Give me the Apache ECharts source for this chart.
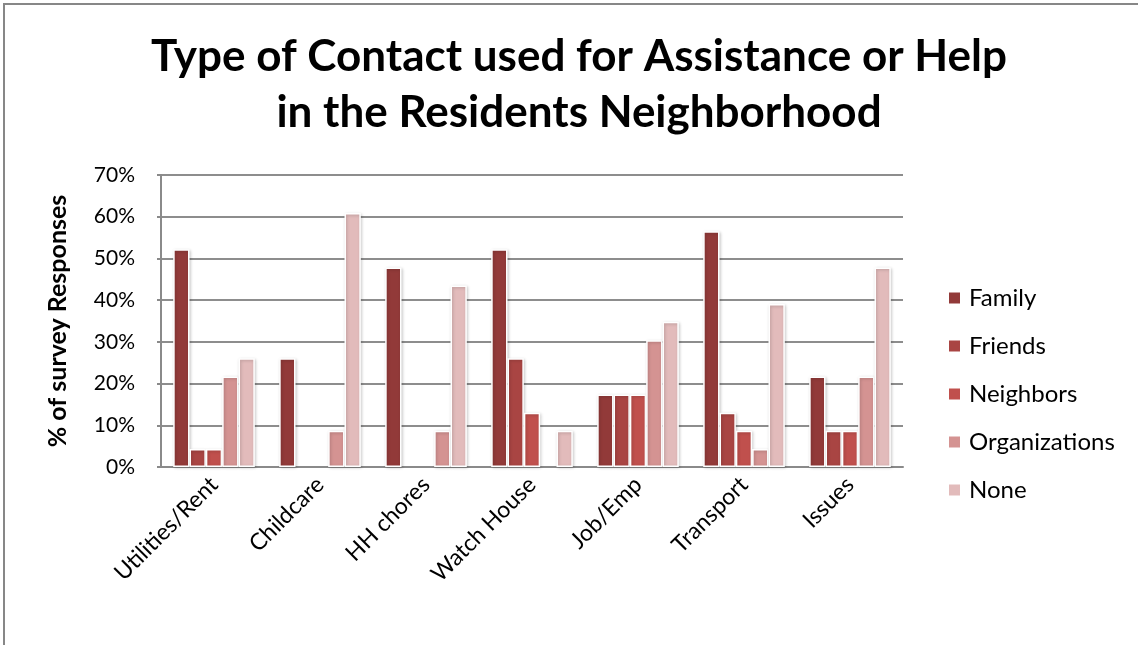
<!DOCTYPE html>
<html>
<head>
<meta charset="utf-8">
<style>
  html, body { margin: 0; padding: 0; background: #fff; }
  #chart { width: 1138px; height: 645px; }
</style>
<script src="https://cdn.jsdelivr.net/npm/echarts@6/dist/echarts.min.js"></script>
</head>
<body>
<div id="chart"></div>
<script>
// Survey of 23 residents: share of responses per type of contact
const categories = ['Utilities/Rent', 'Childcare', 'HH chores', 'Watch House', 'Job/Emp', 'Transport', 'Issues'];
const seriesNames = ['Family', 'Friends', 'Neighbors', 'Organizations', 'None'];
const family        = [52.2, 26.1, 47.8, 52.2, 17.4, 56.5, 21.7];
const friends       = [4.3, 0, 0, 26.1, 17.4, 13.0, 8.7];
const neighbors     = [4.3, 0, 0, 13.0, 17.4, 8.7, 8.7];
const organizations = [21.7, 8.7, 8.7, 0, 30.4, 4.3, 21.7];
const none          = [26.1, 60.9, 43.5, 8.7, 34.8, 39.1, 47.8];
const yTicks = [0, 10, 20, 30, 40, 50, 60, 70];

const values = [family, friends, neighbors, organizations, none];
const colors = ['#923a39', '#a94543', '#c0504d', '#d49392', '#e2bbbb'];
const FONT = 'Lato, "Open Sans", sans-serif';

const chart = echarts.init(document.getElementById('chart'), null, { renderer: 'canvas' });

// zero shares are left empty so no flat bar outline is drawn on the axis
const series = seriesNames.map((name, i) => ({
  name,
  type: 'bar',
  data: values[i].map(v => (v === 0 ? '-' : v)),
  barGap: '0%',
  barCategoryGap: '23%',
  itemStyle: {
    color: colors[i],
    borderColor: '#ffffff',
    borderWidth: 1.5,
    shadowColor: 'rgba(0,0,0,0.22)',
    shadowBlur: 3,
    shadowOffsetX: 1,
    shadowOffsetY: 1
  }
}));

chart.setOption({
  animation: false,
  backgroundColor: '#ffffff',
  title: {
    text: 'Type of Contact used for Assistance or Help\nin the Residents Neighborhood',
    left: 574,
    textAlign: 'center',
    top: 24,
    textStyle: {
      fontFamily: FONT,
      fontWeight: 'bold',
      fontSize: 44,
      lineHeight: 56,
      color: '#000'
    }
  },
  legend: {
    orient: 'vertical',
    left: 942,
    top: 281,
    itemWidth: 13,
    itemHeight: 13,
    itemGap: 24,
    icon: 'rect',
    data: seriesNames,
    textStyle: {
      fontFamily: FONT,
      fontSize: 24,
      lineHeight: 24,
      color: '#000',
      padding: [0, 0, 0, 3]
    }
  },
  grid: {
    left: 161,
    right: 235,
    top: 175,
    bottom: 178,
    containLabel: false
  },
  xAxis: {
    type: 'category',
    data: categories,
    axisLine: { lineStyle: { color: '#8a8a8a', width: 2 } },
    axisTick: { show: false },
    axisLabel: {
      rotate: 45,
      interval: 0,
      margin: 14,
      fontFamily: FONT,
      fontSize: 23,
      color: '#000'
    }
  },
  yAxis: {
    type: 'value',
    min: yTicks[0],
    max: yTicks[yTicks.length - 1],
    interval: 10,
    name: '% of survey Responses',
    nameLocation: 'middle',
    nameGap: 91,
    nameTextStyle: {
      fontFamily: FONT,
      fontWeight: 'bold',
      fontSize: 25,
      color: '#000'
    },
    axisLine: { show: true, lineStyle: { color: '#8a8a8a', width: 2 } },
    axisTick: { show: true, length: 4, lineStyle: { color: '#8a8a8a', width: 2 } },
    axisLabel: {
      margin: 26,
      formatter: '{value}%',
      fontFamily: FONT,
      fontSize: 21,
      color: '#000'
    },
    splitLine: { lineStyle: { color: '#8d8d8d', width: 2 } }
  },
  graphic: [
    {
      type: 'polyline',
      shape: { points: [[4, 645], [4, 4], [1138, 4]] },
      style: { stroke: '#878787', lineWidth: 2, fill: null }
    }
  ],
  series
});
</script>
</body>
</html>
